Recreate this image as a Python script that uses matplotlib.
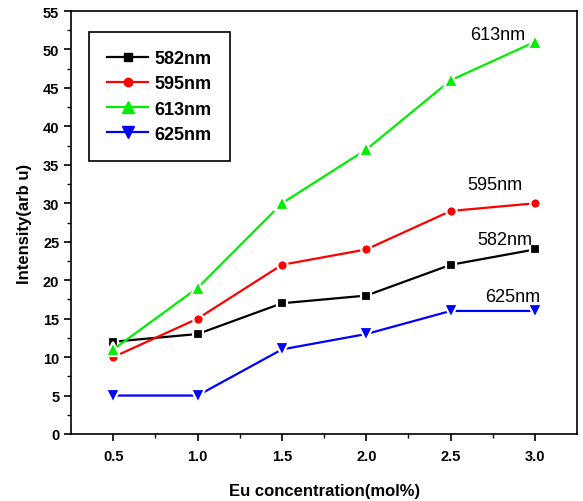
import numpy as np
import matplotlib.pyplot as plt
from matplotlib.lines import Line2D

plt.rcParams['font.family'] = ['Liberation Sans', 'DejaVu Sans']

conc = [0.5, 1.0, 1.5, 2.0, 2.5, 3.0]
i582 = [12, 13, 17, 18, 22, 24]
i595 = [10, 15, 22, 24, 29, 30]
i613 = [11, 19, 30, 37, 46, 51]
i625 = [5, 5, 11, 13, 16, 16]

series = [
    (i582, 'black', 's', 7, '582nm'),
    (i595, 'red', 'o', 7.5, '595nm'),
    (i613, '#00ee00', '^', 10, '613nm'),
    (i625, 'blue', 'v', 10, '625nm'),
]

fig = plt.figure(figsize=(5.83, 5.02), dpi=100)
ax = fig.add_axes([0.122, 0.1335, 0.868, 0.8425])

handles = []
for vals, c, m, ms, name in series:
    # white marker edge gives the small gap between line and marker
    ax.plot(conc, vals, color=c, marker=m, markersize=ms, lw=1.6,
            markeredgecolor='white', markeredgewidth=1.6, markerfacecolor=c)
    handles.append(Line2D([], [], color=c, marker=m, markersize=ms - 1.5,
                          lw=1.6, markeredgecolor=c, label=name))

ax.text(2.78, 52.0, '613nm', fontsize=13, ha='center', va='center')
ax.text(2.76, 32.5, '595nm', fontsize=13, ha='center', va='center')
ax.text(2.82, 25.3, '582nm', fontsize=13, ha='center', va='center')
ax.text(2.87, 17.9, '625nm', fontsize=13, ha='center', va='center')

ax.set_xlim(0.25, 3.25)
ax.set_ylim(0, 55)
ax.set_xticks(conc)
ax.set_xticks(np.arange(0.75, 3.25, 0.5), minor=True)
ax.set_yticks(np.arange(0, 56, 5))
ax.set_yticks(np.arange(2.5, 55, 5), minor=True)
ax.tick_params(which='both', direction='out', top=False, right=False, labelsize=10.5)
ax.tick_params(which='major', length=5, width=1.2)
ax.tick_params(which='minor', length=3, width=1)
ax.tick_params(axis='x', pad=6)
for lbl in ax.get_xticklabels() + ax.get_yticklabels():
    lbl.set_fontweight('bold')
for s in ax.spines.values():
    s.set_linewidth(1.2)

ax.set_xlabel('Eu concentration(mol%)', fontsize=12, fontweight='bold', labelpad=14)
ax.set_ylabel('Intensity(arb u)', fontsize=12, fontweight='bold', labelpad=8)

leg = ax.legend(handles=handles, loc='upper left', bbox_to_anchor=(0.035, 0.950),
                fancybox=False, edgecolor='black', framealpha=1,
                prop={'weight': 'bold', 'size': 13}, borderpad=1.0,
                handlelength=2.3, handletextpad=0.35, labelspacing=0.45,
                borderaxespad=0)
leg.get_frame().set_linewidth(1.2)

fig.savefig('out.png', dpi=100)
